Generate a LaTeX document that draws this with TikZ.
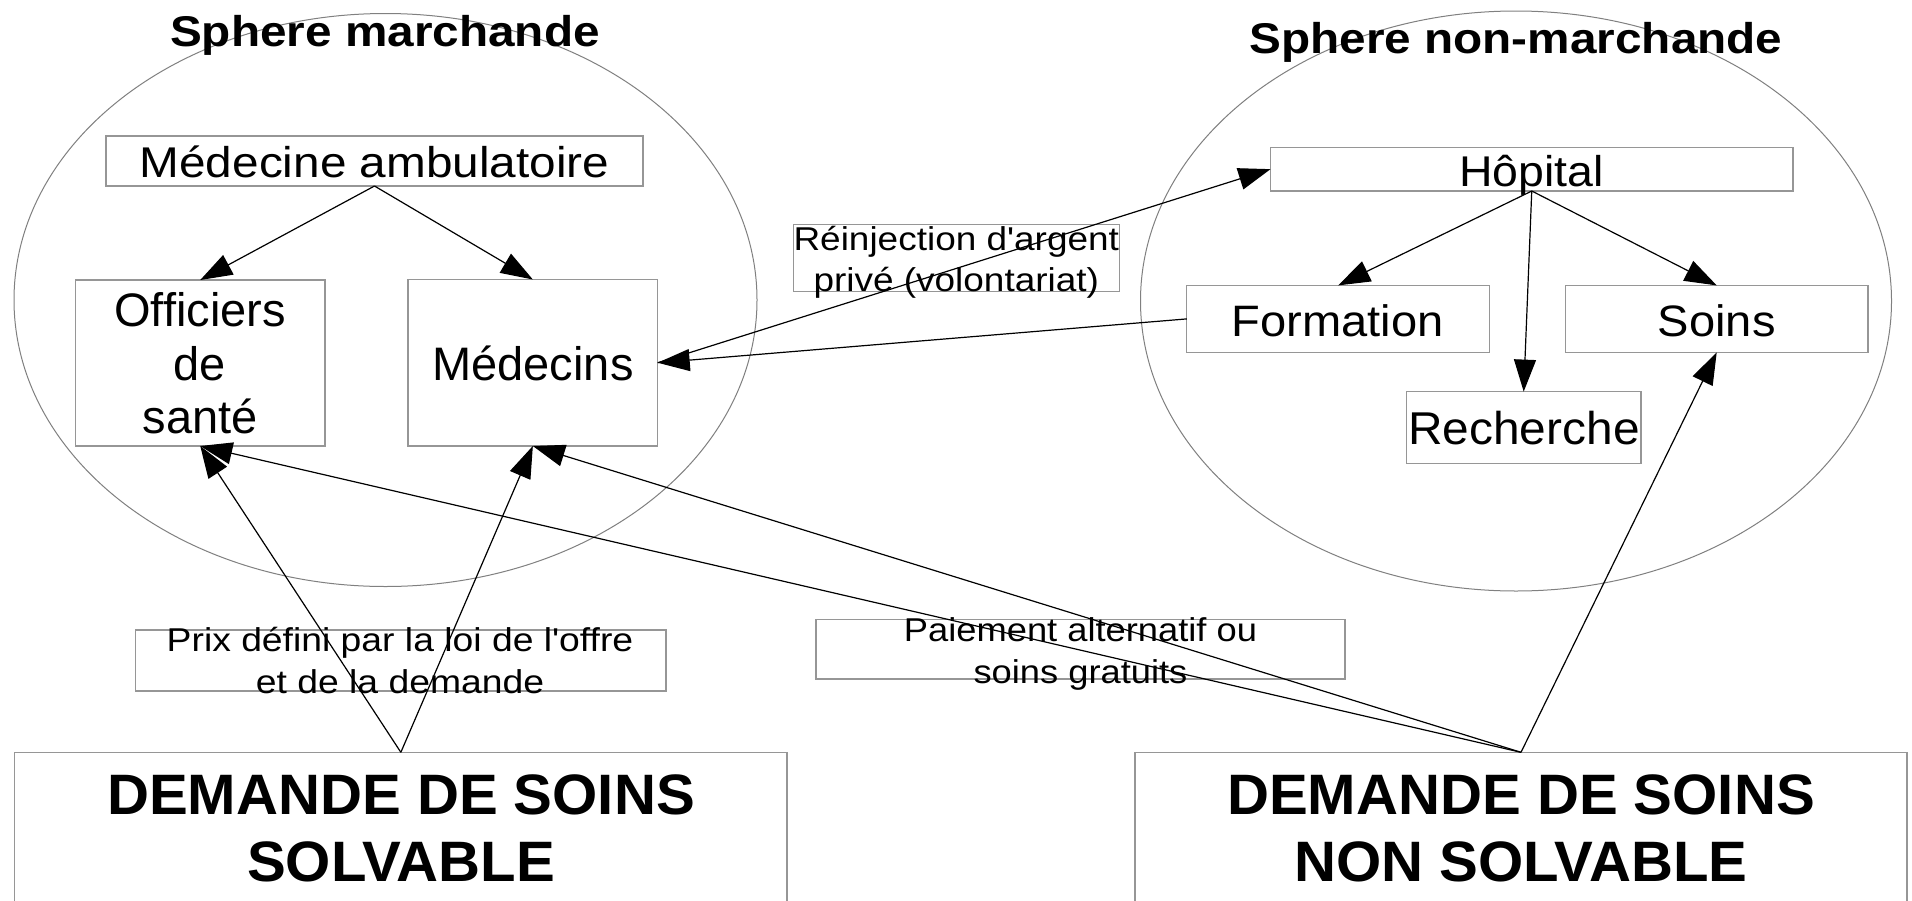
\documentclass[tikz,border=0pt]{standalone}
\usepackage{fontspec}
\setmainfont{Liberation Sans}
\usepackage{graphicx}
\usetikzlibrary{arrows.meta,fit}
\definecolor{boxgray}{RGB}{150,150,150}
\definecolor{ellgray}{RGB}{128,128,128}
\newcommand{\hst}[2]{\scalebox{#1}[1]{#2}}
\newcommand{\aps}{\textquotesingle}
\tikzset{
 bx/.style={draw=boxgray, line width=0.65pt, inner sep=0pt, outer sep=0pt, rectangle},
 ell/.style={draw=ellgray, line width=0.5pt},
 arr/.style={draw=black, line width=0.6pt, -{Triangle[length=16pt,width=11pt]}},
 tx/.style={anchor=base, inner sep=0pt, outer sep=0pt},
 ttl/.style={tx, font=\fontsize{21.5pt}{26pt}\selectfont\bfseries},
 big/.style={tx, font=\fontsize{28.5pt}{34pt}\selectfont\bfseries},
 lab/.style={tx, font=\fontsize{16.5pt}{20pt}\selectfont},
}
\begin{document}
\begin{tikzpicture}[x=0.5pt,y=-0.5pt]
\useasboundingbox (0,0) rectangle (1912,900);
\fill[white] (0,0) rectangle (1912,900);
\clip (0,0) rectangle (1912,900);
% ellipses
\draw[ell] (385.5,300) ellipse [x radius=371.5, y radius=286.5];
\draw[ell] (1516,301) ellipse [x radius=375.5, y radius=290];
% boxes
\node[bx, fit={(106,136) (643,186)}] (amb) {};
\node[bx, fit={(75.5,280) (325,446)}] (off) {};
\node[bx, fit={(408,279.5) (657.7,446)}] (med) {};
\node[bx, fit={(1270.5,147.3) (1793,191)}] (hop) {};
\node[bx, fit={(1186.8,285.4) (1489.5,352.4)}] (form) {};
\node[bx, fit={(1565.4,285.4) (1868,352.4)}] (soins) {};
\node[bx, fit={(1406.4,391.6) (1641,463.6)}] (rech) {};
\node[bx, fit={(793.3,224.3) (1119.3,291.7)}] (reinj) {};
\node[bx, fit={(135.7,630) (666,691)}] (prix) {};
\node[bx, fit={(816,619.5) (1345,679)}] (paie) {};
\node[bx, fit={(14.7,752.3) (787,910)}] (dsolv) {};
\node[bx, fit={(1135,752.3) (1907,910)}] (dnon) {};
% texts
\node[ttl] (tl) at (385,46) {\hst{1.11}{Sphere marchande}};
\node[ttl] (tr) at (1516,53.6) {\hst{1.11}{Sphere non-marchande}};
\node[tx, font=\fontsize{21.5pt}{26pt}\selectfont] (ambt) at (374.5,177) {\hst{1.11}{Médecine ambulatoire}};
\node[tx, font=\fontsize{23.5pt}{28pt}\selectfont] (offa) at (200,326) {Officiers};
\node[tx, font=\fontsize{23.5pt}{28pt}\selectfont] (offb) at (200,380) {de};
\node[tx, font=\fontsize{23.5pt}{28pt}\selectfont] (offc) at (200,433) {santé};
\node[tx, font=\fontsize{23.5pt}{28pt}\selectfont] (medt) at (533,380) {Médecins};
\node[tx, font=\fontsize{21.5pt}{26pt}\selectfont] (hopt) at (1531.5,186.6) {\hst{1.08}{Hôpital}};
\node[tx, font=\fontsize{22pt}{26pt}\selectfont] (formt) at (1337.5,336) {\hst{1.07}{Formation}};
\node[tx, font=\fontsize{22pt}{26pt}\selectfont] (soinst) at (1716.8,336) {\hst{1.07}{Soins}};
\node[tx, font=\fontsize{23pt}{27pt}\selectfont] (recht) at (1524,444.4) {\hst{1.04}{Recherche}};
\node[lab] (reinja) at (956.3,250.7) {\hst{1.12}{Réinjection d\aps argent}};
\node[lab] (reinjb) at (956.3,291) {\hst{1.12}{privé (volontariat)}};
\node[lab] (prixa) at (400,651.7) {\hst{1.13}{Prix défini par la loi de l\aps offre}};
\node[lab] (prixb) at (400,693.3) {\hst{1.13}{et de la demande}};
\node[lab] (paiea) at (1080.5,641.7) {\hst{1.10}{Paiement alternatif ou}};
\node[lab] (paieb) at (1080.5,683.3) {\hst{1.10}{soins gratuits}};
\node[big] (dsa) at (401,814) {\hst{1.02}{DEMANDE DE SOINS}};
\node[big] (dsb) at (401,881.7) {\hst{1.02}{SOLVABLE}};
\node[big] (dna) at (1521,814) {\hst{1.02}{DEMANDE DE SOINS}};
\node[big] (dnb) at (1521,881.7) {\hst{1.02}{NON SOLVABLE}};
% connectors
\draw[arr] (amb.south) -- (off.north);
\draw[arr] (amb.south) -- (med.north);
\draw[arr] (med.east) -- (hop.west);
\draw[arr] (form.west) -- (med.east);
\draw[arr] (hop.south) -- (form.north);
\draw[arr] (hop.south) -- (rech.north);
\draw[arr] (hop.south) -- (soins.north);
\draw[arr] (dsolv.north) -- (off.south);
\draw[arr] (dsolv.north) -- (med.south);
\draw[arr] (dnon.north) -- (off.south);
\draw[arr] (dnon.north) -- (med.south);
\draw[arr] (dnon.north) -- (soins.south);
\end{tikzpicture}
\end{document}
